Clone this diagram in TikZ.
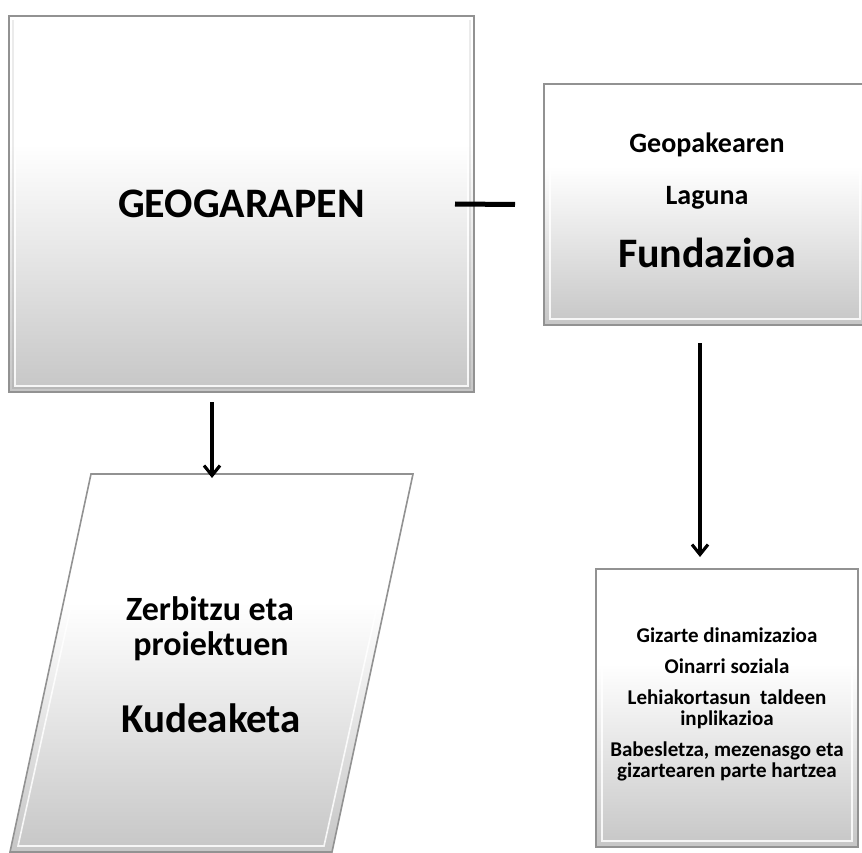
\documentclass[tikz,border=0pt]{standalone}
\usepackage{fontspec}
\setmainfont{Carlito}
\usetikzlibrary{arrows.meta,calc}
\definecolor{edgegray}{HTML}{929292}
\definecolor{botgray}{HTML}{C6C6C6}
\definecolor{midgray}{HTML}{E4E4E4}
\pgfdeclareverticalshading{boxsh}{100bp}{color(0bp)=(botgray); color(25bp)=(botgray);
  color(42bp)=(midgray); color(58bp)=(white); color(75bp)=(white); color(100bp)=(white)}
\begin{document}
\begin{tikzpicture}[x=1pt,y=-1pt,
  box/.style={draw=edgegray, line width=1.6pt, shading=boxsh,
    inner sep=0pt, outer sep=0pt, font=\bfseries},
  rectbox/.style={box, rectangle},
  bevel/.style={draw=white, line width=1.6pt, opacity=0.85},
  shade/.style={draw=black, line width=1.2pt, opacity=0.08},
  txt/.style={font=\bfseries, inner sep=0pt, anchor=base},
  arr/.style={line width=3.1pt, -{Straight Barb[length=10pt,width=16pt]}},
  link/.style={line width=5pt}]
\useasboundingbox (0,0) rectangle (862,853);
% boxes
\node[rectbox, minimum width=465pt, minimum height=376pt] (geo) at (241.5,204)
  {\fontsize{42}{50}\selectfont GEOGARAPEN};
\node[rectbox, minimum width=326pt, minimum height=241pt] (fund) at (707,204.5) {};
\node[rectbox, minimum width=262pt, minimum height=278pt] (giz) at (727,708) {};
% parallelogram
\coordinate (kTL) at (91,474);
\coordinate (kTR) at (413,474);
\coordinate (kBR) at (332,852);
\coordinate (kBL) at (10,852);
\coordinate (ktop) at (212,474);
\path[box] (kBL) -- (kTL) -- (kTR) -- (kBR) -- cycle;
% bevel highlights
\draw[shade] ([xshift=4pt,yshift=-4pt]geo.north west) -- ([xshift=4pt,yshift=4pt]geo.south west)
  -- ([xshift=-4pt,yshift=4pt]geo.south east) -- ([xshift=-4pt,yshift=-4pt]geo.north east);
\draw[bevel] ([xshift=6pt,yshift=-6pt]geo.north west) -- ([xshift=6pt,yshift=6pt]geo.south west)
  -- ([xshift=-6pt,yshift=6pt]geo.south east) -- ([xshift=-6pt,yshift=-6pt]geo.north east);
\draw[bevel] ([xshift=6pt,yshift=-6pt]fund.north west) -- ([xshift=6pt,yshift=6pt]fund.south west)
  -- ([xshift=-10pt,yshift=6pt]fund.south east) -- ([xshift=-10pt,yshift=-6pt]fund.north east);
\draw[bevel] ([xshift=6pt,yshift=-6pt]giz.north west) -- ([xshift=6pt,yshift=6pt]giz.south west)
  -- ([xshift=-6pt,yshift=6pt]giz.south east) -- ([xshift=-6pt,yshift=-6pt]giz.north east);
\draw[bevel] ([xshift=8pt,yshift=-6pt]kTL) -- ([xshift=8pt,yshift=6pt]kBL)
  -- ([xshift=-8pt,yshift=6pt]kBR) -- ([xshift=-8pt,yshift=-6pt]kTR);
% texts
\node[txt] (f1) at (707,153) {\fontsize{28}{32}\selectfont Geopakearen};
\node[txt] (f2) at (707,205) {\fontsize{28}{32}\selectfont Laguna};
\node[txt] (f3) at (707,267) {\fontsize{42}{48}\selectfont Fundazioa};
\node[txt] (k1) at (210,620) {\fontsize{34}{38}\selectfont Zerbitzu eta};
\node[txt] (k2) at (211,655) {\fontsize{34}{38}\selectfont proiektuen};
\node[txt] (k3) at (211,732) {\fontsize{41}{46}\selectfont Kudeaketa};
\node[font=\bfseries\fontsize{21}{21}\selectfont, align=center, inner sep=0pt] (gt) at (727,704)
  {Gizarte dinamizazioa\\[10pt]
   Oinarri soziala\\[10pt]
   Lehiakortasun~ taldeen\\ inplikazioa\\[10pt]
   Babesletza, mezenasgo eta\\ gizartearen parte hartzea};
% connectors
\coordinate (a1s) at ([yshift=-10pt]geo.south -| ktop);
\draw[arr] (a1s) -- ([yshift=-4pt]ktop);
\coordinate (a2s) at ([xshift=-7pt,yshift=-18pt]fund.south);
\draw[arr] (a2s) -- ([yshift=12pt]giz.north -| a2s);
\draw[link] ([xshift=-19pt]geo.east) -- ([xshift=-29pt]fund.west);
\end{tikzpicture}
\end{document}
